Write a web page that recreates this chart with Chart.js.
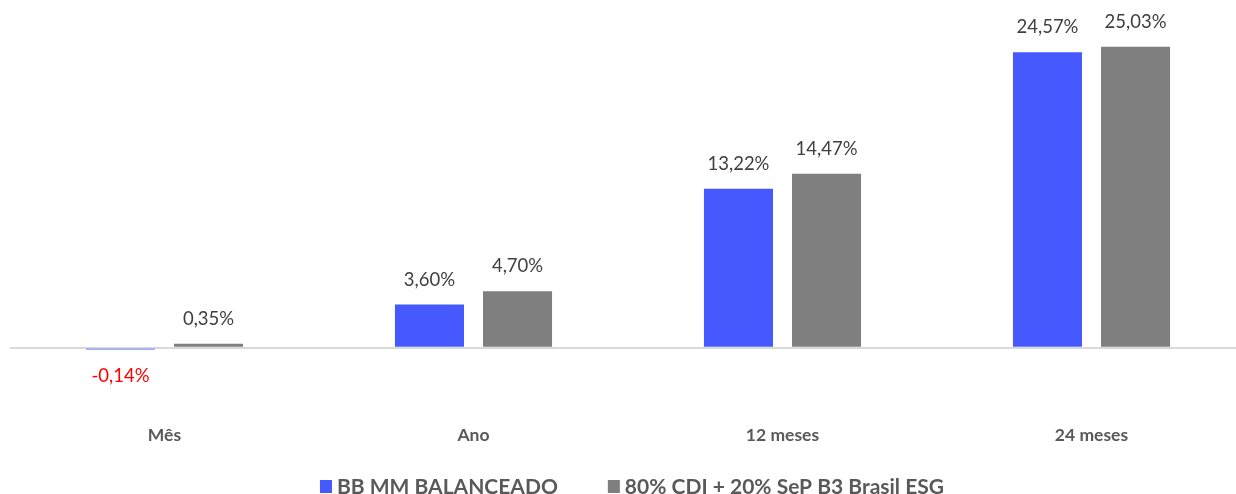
<!DOCTYPE html>
<html>
<head>
<meta charset="utf-8">
<script src="https://cdn.jsdelivr.net/npm/chart.js@4"></script>
<style>
  html, body { margin: 0; padding: 0; background: #fff; overflow: hidden; }
  #clip { width: 1236px; height: 494px; overflow: hidden; }
  #wrap { width: 1246px; height: 494px; }
</style>
</head>
<body>
<div id="clip"><div id="wrap"><canvas id="perfChart"></canvas></div></div>
<script>
const categories = ["Mês", "Ano", "12 meses", "24 meses"];
const fundLabel = "BB MM BALANCEADO";
const benchLabel = "80% CDI + 20% SeP B3 Brasil ESG";
const fundValues = [-0.14, 3.60, 13.22, 24.57];
const benchValues = [0.35, 4.70, 14.47, 25.03];

const FONT = "Lato, 'Open Sans', sans-serif";

function fmt(v) {
  return v.toFixed(2).replace(".", ",") + "%";
}

// value labels above / below each bar
const valueLabels = {
  id: "valueLabels",
  afterDatasetsDraw(chart) {
    const ctx = chart.ctx;
    ctx.save();
    ctx.font = "18.5px " + FONT;
    ctx.textAlign = "center";
    ctx.textBaseline = "middle";
    chart.data.datasets.forEach((ds, i) => {
      chart.getDatasetMeta(i).data.forEach((bar, j) => {
        const v = ds.data[j];
        if (v < 0) {
          ctx.fillStyle = "#ff0000";
          ctx.fillText(fmt(v), bar.x, bar.y + 27);
        } else {
          ctx.fillStyle = "#404040";
          ctx.fillText(fmt(v), bar.x, bar.y - 25);
        }
      });
    });
    ctx.restore();
  }
};

// legend drawn by hand so the spacing between items matches
const bottomLegend = {
  id: "bottomLegend",
  afterDraw(chart) {
    const ctx = chart.ctx;
    const y = 486;
    const gap = 50;
    ctx.save();
    ctx.font = "bold 21px " + FONT;
    ctx.textBaseline = "middle";
    const items = chart.data.datasets.map(ds => ({
      text: ds.label,
      color: ds.backgroundColor,
      w: 12 + 5 + ctx.measureText(ds.label).width
    }));
    const total = items.reduce((s, it) => s + it.w, 0) + gap * (items.length - 1);
    let x = (chart.chartArea.left + chart.chartArea.right) / 2 + 4 - total / 2;
    items.forEach(it => {
      ctx.fillStyle = it.color;
      ctx.fillRect(x, y - 6, 12, 13);
      ctx.fillStyle = "#595959";
      ctx.fillText(it.text, x + 17, y + 1);
      x += it.w + gap;
    });
    ctx.restore();
  }
};

new Chart(document.getElementById("perfChart"), {
  type: "bar",
  data: {
    labels: categories,
    datasets: [
      {
        label: fundLabel,
        data: fundValues,
        backgroundColor: "#4659ff",
        categoryPercentage: 0.57,
        barPercentage: 0.784
      },
      {
        label: benchLabel,
        data: benchValues,
        backgroundColor: "#7f7f7f",
        categoryPercentage: 0.57,
        barPercentage: 0.784
      }
    ]
  },
  options: {
    responsive: true,
    maintainAspectRatio: false,
    animation: false,
    layout: { padding: { top: 23, left: 10, right: 0, bottom: 39 } },
    plugins: {
      legend: { display: false },
      tooltip: { enabled: false }
    },
    scales: {
      x: {
        grid: { display: false },
        border: { display: false },
        ticks: {
          color: "#595959",
          font: { family: FONT, size: 17.5, weight: "bold" },
          padding: 9
        }
      },
      y: {
        min: -5,
        max: 27,
        border: { display: false },
        ticks: { display: false, stepSize: 1 },
        grid: {
          drawTicks: false,
          lineWidth: 2,
          color: c => (c.tick && c.tick.value === 0 ? "#d9d9d9" : "transparent")
        }
      }
    }
  },
  plugins: [valueLabels, bottomLegend]
});
</script>
</body>
</html>
